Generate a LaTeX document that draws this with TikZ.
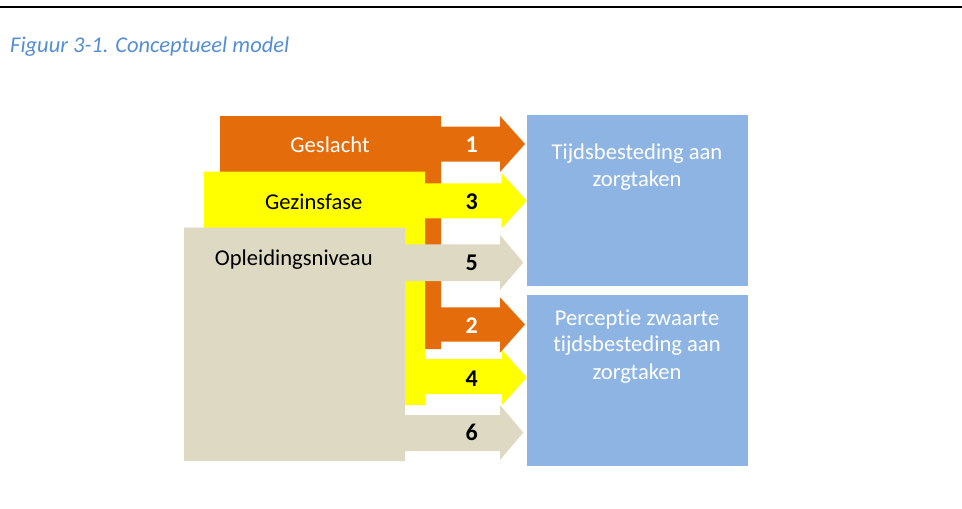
\documentclass[tikz,border=0pt]{standalone}
\usepackage{fontspec}
\setmainfont{Carlito}[Ligatures={NoCommon}]
\definecolor{orangeC}{HTML}{E46C0A}
\definecolor{yellowC}{HTML}{FFFF00}
\definecolor{grayC}{HTML}{DDD9C3}
\definecolor{blueC}{HTML}{8EB4E3}
\definecolor{capC}{HTML}{558ED5}
\begin{document}
\begin{tikzpicture}[x=1pt,y=-1pt,
  txt/.style={inner sep=0pt, anchor=base, font=\fontsize{22.6}{27}\selectfont},
  num/.style={inner sep=0pt, anchor=base, font=\fontsize{24}{27}\selectfont\bfseries},
  target/.style={fill=blueC, draw=none, inner sep=0pt, minimum width=220.4pt, minimum height=170.7pt}]
\useasboundingbox (0,0) rectangle (962,509);
\fill[white] (0,0) rectangle (962,509);
\draw[line width=1.5pt] (0,7) -- (962,7);
\node[inner sep=0pt, anchor=base west, font=\fontsize{22.5}{27}\selectfont\itshape, text=capC] (cap) at (10,52.3) {Figuur 3-1. Conceptueel model};
% orange: Geslacht -> 1, 2
\fill[orangeC] (220,116) -- (441,116) -- (441,126.5) -- (500,126.5) -- (500,116) -- (525,144)
  -- (500,172) -- (500,161.7) -- (441,161.7) -- (441,307.3) -- (500,307.3) -- (500,297.3)
  -- (525,324.5) -- (500,352.7) -- (500,341.7) -- (441,341.7) -- (441,349) -- (425,349)
  -- (425,172) -- (220,172) -- cycle;
% yellow: Gezinsfase -> 3, 4
\fill[yellowC] (204,171.7) -- (425,171.7) -- (425,183.3) -- (501.7,183.3) -- (501.7,173.3) -- (526.7,200.8)
  -- (501.7,228.3) -- (501.7,218.3) -- (425,218.3) -- (425,359) -- (502,359) -- (502,350)
  -- (526.7,377.5) -- (502,405) -- (502,394) -- (425,394) -- (425,405) -- (405,405)
  -- (405,228) -- (204,228) -- cycle;
% gray: Opleidingsniveau -> 5, 6
\fill[grayC] (184,227.7) -- (405,227.7) -- (405,244.3) -- (500,244.3) -- (500,235) -- (523.3,262.5)
  -- (500,290) -- (500,281) -- (405,281) -- (405,415) -- (500,415) -- (500,405)
  -- (523.3,432.5) -- (500,460) -- (500,451) -- (405,451) -- (405,461) -- (184,461) -- cycle;
% targets
\node[target] (box1) at (637.5,200.4) {};
\node[target] (box2) at (637.5,380.4) {};
% labels
\node[txt, text=white] (geslacht) at (330,152.7) {Geslacht};
\node[txt] (gezinsfase) at (313.8,209.2) {Gezinsfase};
\node[txt] (opleiding) at (293.8,265) {Opleidingsniveau};
\node[num, text=white] (n1) at (471.7,152.7) {1};
\node[num] (n3) at (471.7,209.3) {3};
\node[num] (n5) at (471.7,270.7) {5};
\node[num, text=white] (n2) at (471.7,333.3) {2};
\node[num] (n4) at (471.7,386) {4};
\node[num] (n6) at (471.7,440.7) {6};
\node[txt, text=white] (b1a) at (637,159.3) {Tijdsbesteding aan};
\node[txt, text=white] (b1b) at (637,186) {zorgtaken};
\node[txt, text=white] (b2a) at (637,325) {Perceptie zwaarte};
\node[txt, text=white] (b2b) at (637,351.7) {tijdsbesteding aan};
\node[txt, text=white] (b2c) at (637,379.3) {zorgtaken};
\end{tikzpicture}
\end{document}
